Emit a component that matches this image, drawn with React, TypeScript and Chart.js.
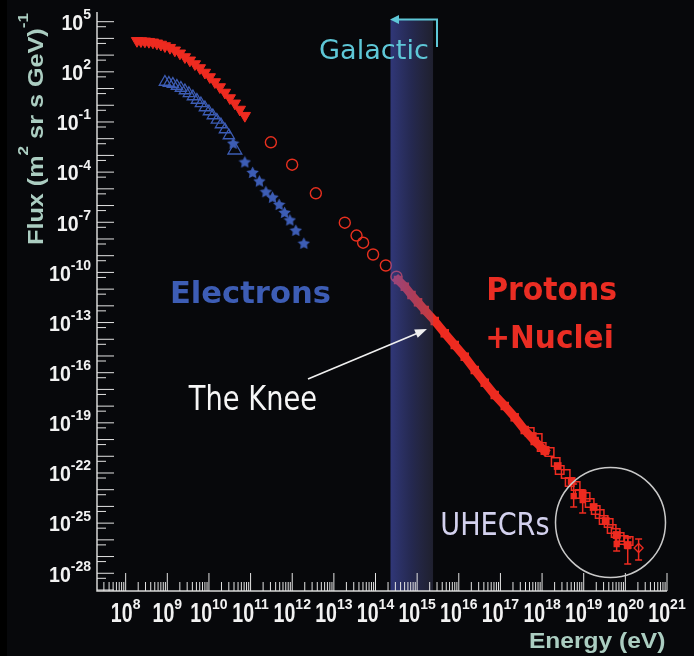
import { useEffect, useRef } from 'react';
import { Chart, registerables } from 'chart.js';

Chart.register(...registerables);

// ---------------- Data (energy in eV, flux in (m^2 sr s GeV)^-1) ----------------
const protonLowE = [1.87e8, 2.33e8, 2.9e8, 3.62e8, 4.52e8, 5.64e8, 7.03e8, 8.77e8, 1.16e9, 1.52e9, 2.01e9, 2.65e9, 3.49e9, 4.6e9, 6.07e9, 8.0e9, 1.05e10, 1.39e10, 1.83e10, 2.42e10, 3.18e10, 4.2e10, 5.53e10, 7.29e10];
const protonLowFlux = [7.2e3, 7.0e3, 6.71e3, 6.36e3, 5.86e3, 5.1e3, 4.33e3, 3.52e3, 2.78e3, 1.95e3, 1.29e3, 773, 491, 294, 170, 91.4, 49.1, 24.7, 12.4, 5.81, 2.72, 1.31, 0.558, 0.238];

const electronLowE = [8.77e8, 1.09e9, 1.36e9, 1.7e9, 2.12e9, 2.65e9, 3.3e9, 4.12e9, 5.14e9, 6.41e9, 8.0e9, 9.98e9, 1.24e10, 1.55e10, 1.94e10, 2.42e10, 3.01e10, 4.2e10];
const electronLowFlux = [24.7, 21.5, 18.7, 14.2, 10.8, 7.66, 5.2, 3.35, 2.07, 1.28, 0.736, 0.424, 0.244, 0.132, 0.0706, 0.0355, 0.0155, 0.00211];

const electronHighE = [3.82e10, 7.29e10, 1.12e11, 1.63e11, 2.33e11, 3.37e11, 4.86e11, 6.55e11, 8.77e11, 1.22e12, 1.9e12];
const electronHighFlux = [5.31e-3, 4.04e-4, 9.51e-5, 2.94e-5, 6.75e-6, 3.12e-6, 1.16e-6, 3.84e-7, 1.37e-7, 3.3e-8, 5.52e-9];

const protonMidE = [3.07e11, 9.96e11, 3.69e12, 1.83e13, 3.5e13, 5.04e13, 8.75e13, 1.77e14, 3.19e14];
const protonMidFlux = [6.08e-3, 2.78e-4, 5.41e-6, 9.42e-8, 1.61e-8, 6.0e-9, 1.18e-9, 2.59e-10, 5.53e-11];

const kneeE = [3.48e14, 5.05e14, 7.31e14, 1.05e15, 1.52e15, 2.65e15, 4.6e15, 8.0e15, 1.39e16, 2.42e16, 4.2e16, 7.29e16, 1.27e17, 2.2e17, 3.83e17, 6.65e17, 1.16e18];
const kneeFlux = [3.52e-11, 1.4e-11, 4.45e-12, 1.63e-12, 5.64e-13, 1.24e-13, 2.28e-14, 4.54e-15, 9.06e-16, 1.45e-16, 2.52e-17, 4.62e-18, 1.02e-18, 2.14e-19, 3.72e-20, 8.18e-21, 2.15e-21];

const uhecrOpenE = [5.05e17, 7.85e17, 9.79e17, 1.52e18, 2.12e18, 2.65e18, 3.69e18, 4.6e18, 6.41e18, 8.0e18, 1.11e19, 1.39e19, 1.94e19, 2.42e19, 3.01e19, 3.97e19, 4.69e19, 5.85e19, 7.29e19, 9.1e19, 1.2e20];
const uhecrOpenFlux = [2.83e-20, 1.24e-20, 3.58e-21, 1.8e-21, 4.54e-22, 1.51e-22, 8.69e-23, 2.88e-23, 1.66e-23, 5.52e-24, 3.65e-24, 1.6e-24, 6.1e-25, 3.51e-25, 1.53e-25, 1.02e-25, 4.45e-26, 2.56e-26, 1.48e-26, 9.77e-27, 8.51e-27];

const uhecrFilledE = [5.96e17, 1.22e18, 2.37e18, 5.14e18, 9.44e18, 1.73e19, 3.37e19, 6.18e19, 1.14e20];
const uhecrFilledFlux = [1.63e-20, 2.37e-21, 2.61e-22, 3.31e-23, 5.52e-24, 9.2e-25, 1.34e-25, 1.95e-26, 4.9e-27];

const errE = [5.74e18, 9.44e18, 6.18e19, 1.14e20, 2.08e20];
const errFlux = [4.19e-24, 2.42e-24, 5.61e-27, 4.27e-27, 3.24e-27];
const errLow = [9.2e-25, 4.03e-25, 2.14e-27, 3.56e-28, 6.22e-28];
const errHigh = [2.19e-23, 9.57e-24, 1.29e-26, 1.29e-26, 1.12e-26];

// Knee region band (energy range) and its top
const bandE = [2.29e14, 2.41e15];
const bandTopFlux = 1.26e5;

// Axis ranges and ticks
const X_MIN = 2.05e7;
const X_MAX = 1e21;
const Y_MIN = 8.7e-30;
const Y_MAX = 3.8e5;
const xLabelExps = [8, 9, 10, 11, 12, 13, 14, 15, 16, 17, 18, 19, 20, 21];
const yMajorExps = [5, 4, 3, 2, 1, 0, -1, -2, -3, -4, -5, -6, -7, -8, -9, -10, -11, -12, -13, -14, -15, -16, -17, -18, -19, -20, -21, -22, -23, -24, -25, -26, -27, -28, -29];
const yLabelExps = [5, 2, -1, -4, -7, -10, -13, -16, -19, -22, -25, -28];

// ---------------- Styles ----------------
const BG = '#07080b';
const RED = '#ee2b20';
const BLUE = '#3d5db5';
const TITLE = '#abcdc1';

function makeStar(color: string, size: number) {
  const c = document.createElement('canvas');
  c.width = size;
  c.height = size;
  const g = c.getContext('2d')!;
  const cx = size / 2, cy = size / 2 + 0.5, R = size / 2, r = R * 0.5;
  g.beginPath();
  for (let i = 0; i < 10; i++) {
    const a = -Math.PI / 2 + (i * Math.PI) / 5;
    const rad = i % 2 === 0 ? R : r;
    g.lineTo(cx + rad * Math.cos(a), cy + rad * Math.sin(a));
  }
  g.closePath();
  g.fillStyle = color;
  g.fill();
  return c;
}

function fitText(ctx: CanvasRenderingContext2D, text: string, font: string, left: number, baseline: number, inkWidth: number, color: string) {
  ctx.save();
  ctx.font = font;
  ctx.textAlign = 'left';
  ctx.textBaseline = 'alphabetic';
  const m = ctx.measureText(text);
  const ink = m.actualBoundingBoxLeft + m.actualBoundingBoxRight;
  const s = inkWidth / ink;
  ctx.translate(left, baseline);
  ctx.scale(s, 1);
  ctx.fillStyle = color;
  ctx.fillText(text, m.actualBoundingBoxLeft, 0);
  ctx.restore();
}

function drawPower(ctx: CanvasRenderingContext2D, exp: number, anchorX: number, align: 'center' | 'right', base10: number, baseExp: number, f10: string, s10: number, fExp: string, sExp: number) {
  const e = exp < 0 ? '-' + Math.abs(exp) : String(exp);
  ctx.font = f10;
  const w10 = ctx.measureText('10').width * s10;
  ctx.font = fExp;
  const wE = ctx.measureText(e).width * sExp;
  const total = w10 + wE;
  const start = align === 'center' ? anchorX - total / 2 : anchorX - total;
  ctx.save();
  ctx.font = f10;
  ctx.translate(start, base10);
  ctx.scale(s10, 1);
  ctx.fillText('10', 0, 0);
  ctx.restore();
  ctx.save();
  ctx.font = fExp;
  ctx.translate(start + w10, baseExp);
  ctx.scale(sExp, 1);
  ctx.fillText(e, 0, 0);
  ctx.restore();
}

function arrowHead(ctx: CanvasRenderingContext2D, tipX: number, tipY: number, fromX: number, fromY: number, len: number, half: number) {
  const a = Math.atan2(tipY - fromY, tipX - fromX);
  const bx = tipX - Math.cos(a) * len, by = tipY - Math.sin(a) * len;
  ctx.beginPath();
  ctx.moveTo(tipX, tipY);
  ctx.lineTo(bx + Math.sin(a) * half, by - Math.cos(a) * half);
  ctx.lineTo(bx - Math.sin(a) * half, by + Math.cos(a) * half);
  ctx.closePath();
  ctx.fill();
}

const overlay = {
  id: 'cosmicOverlay',
  beforeDraw(chart: any) {
    const { ctx, width, height } = chart;
    ctx.save();
    ctx.fillStyle = BG;
    ctx.fillRect(0, 0, width, height);
    ctx.fillStyle = '#000000';
    ctx.fillRect(0, 0, 7, height);
    ctx.restore();
  },
  afterDatasetsDraw(chart: any) {
    const ctx: CanvasRenderingContext2D = chart.ctx;
    const ca = chart.chartArea;
    const xs = chart.scales.x;
    const ys = chart.scales.y;
    ctx.save();

    // error bars
    ctx.strokeStyle = RED;
    ctx.lineWidth = 1.5;
    for (let i = 0; i < errE.length; i++) {
      const x = xs.getPixelForValue(errE[i]);
      const y1 = ys.getPixelForValue(errHigh[i]);
      const y2 = ys.getPixelForValue(errLow[i]);
      ctx.beginPath();
      ctx.moveTo(x, y1); ctx.lineTo(x, y2);
      ctx.moveTo(x - 3.5, y1); ctx.lineTo(x + 3.5, y1);
      ctx.moveTo(x - 3.5, y2); ctx.lineTo(x + 3.5, y2);
      ctx.stroke();
    }

    // knee band (translucent overlay)
    const bx0 = xs.getPixelForValue(bandE[0]);
    const bx1 = xs.getPixelForValue(bandE[1]);
    const by0 = ys.getPixelForValue(bandTopFlux);
    const g = ctx.createLinearGradient(bx0, 0, bx1, 0);
    g.addColorStop(0, 'rgba(82,94,210,0.55)');
    g.addColorStop(0.5, 'rgba(78,86,175,0.42)');
    g.addColorStop(1, 'rgba(95,97,145,0.27)');
    ctx.fillStyle = g;
    ctx.fillRect(bx0, by0, bx1 - bx0, ca.bottom - by0);

    // axes
    ctx.strokeStyle = '#d6d6d6';
    ctx.lineWidth = 1.5;
    ctx.beginPath();
    ctx.moveTo(ca.left, ca.top);
    ctx.lineTo(ca.left, ca.bottom);
    ctx.lineTo(ca.right, ca.bottom);
    ctx.stroke();

    // y ticks
    ctx.strokeStyle = '#e4e4e4';
    ctx.lineWidth = 1;
    ctx.beginPath();
    for (const n of yMajorExps) {
      const y = ys.getPixelForValue(Math.pow(10, n));
      if (y >= ca.top - 0.5 && y <= ca.bottom + 0.5) {
        ctx.moveTo(ca.left, y); ctx.lineTo(ca.left + 17, y);
      }
      const ym = ys.getPixelForValue(5 * Math.pow(10, n - 1));
      if (ym >= ca.top && ym <= ca.bottom - 1) {
        ctx.moveTo(ca.left, ym); ctx.lineTo(ca.left + 9, ym);
      }
    }
    ctx.stroke();

    // x ticks
    ctx.beginPath();
    for (let n = 7; n <= 21; n++) {
      for (let k = 1; k <= 9; k++) {
        const v = k * Math.pow(10, n);
        if (v < X_MIN * 1.01 || v > X_MAX * 1.001) continue;
        const x = xs.getPixelForValue(v);
        const len = k === 1 ? 18 : 9;
        ctx.moveTo(x, ca.bottom); ctx.lineTo(x, ca.bottom - len);
      }
    }
    ctx.stroke();

    // tick labels
    ctx.fillStyle = '#f2f2f2';
    ctx.textBaseline = 'alphabetic';
    ctx.textAlign = 'left';
    for (const n of yLabelExps) {
      const y = ys.getPixelForValue(Math.pow(10, n));
      drawPower(ctx, n, 91, 'right', y + 8.3, y - 2.5,
        'bold 22px "Liberation Sans", Arial, sans-serif', 0.89,
        'bold 14px "Liberation Sans", Arial, sans-serif', 1.0);
    }
    for (const n of xLabelExps) {
      const x = xs.getPixelForValue(Math.pow(10, n));
      drawPower(ctx, n, x, 'center', 621.7, 608.5,
        'bold 28px "Liberation Sans", Arial, sans-serif', 0.7,
        'bold 14px "Liberation Sans", Arial, sans-serif', 1.0);
    }

    // axis titles
    ctx.save();
    ctx.fillStyle = TITLE;
    ctx.translate(43, 245);
    ctx.rotate(-Math.PI / 2);
    const MAIN = 'bold 22px "Liberation Sans", Arial, sans-serif';
    const SUP = 'bold 15px "Liberation Sans", Arial, sans-serif';
    const parts = [
      { t: 'Flux (m', f: MAIN, dy: 0 },
      { t: '2', f: SUP, dy: -15 },
      { t: ' sr s GeV)', f: MAIN, dy: 0 },
      { t: '-1', f: SUP, dy: -15 },
    ];
    let total = 0;
    const widths: number[] = [];
    for (const p of parts) {
      ctx.font = p.f;
      const w = ctx.measureText(p.t).width;
      widths.push(w);
      total += w;
    }
    ctx.scale(232 / total, 1);
    let px = 0;
    parts.forEach((p, i) => {
      ctx.font = p.f;
      ctx.fillText(p.t, px, p.dy);
      px += widths[i];
    });
    ctx.restore();
    fitText(ctx, 'Energy (eV)', 'bold 22px "Liberation Sans", Arial, sans-serif', 530, 648, 135, TITLE);

    // annotations
    fitText(ctx, 'Galactic', '27px "DejaVu Sans", sans-serif', 320, 59, 108, '#5ec7d7');
    ctx.strokeStyle = '#5ec7d7';
    ctx.fillStyle = '#5ec7d7';
    ctx.lineWidth = 2;
    ctx.beginPath();
    ctx.moveTo(437, 47);
    ctx.lineTo(437, 19.5);
    ctx.lineTo(397, 19.5);
    ctx.stroke();
    arrowHead(ctx, 390, 19.5, 437, 19.5, 9, 4.5);

    fitText(ctx, 'Electrons', 'bold 30px "DejaVu Sans", sans-serif', 172, 303, 158, BLUE);
    fitText(ctx, 'Protons', 'bold 32px "DejaVu Sans", sans-serif', 488, 300, 128, '#ea2d23');
    fitText(ctx, '+Nuclei', 'bold 32px "DejaVu Sans", sans-serif', 488, 348, 124, '#ea2d23');
    fitText(ctx, 'The Knee', '33px "DejaVu Sans", sans-serif', 188, 410, 128, '#f6f6f6');
    fitText(ctx, 'UHECRs', '32px "DejaVu Sans", sans-serif', 442, 535, 107, '#d3d1ee');

    // knee arrow
    ctx.strokeStyle = '#f0f0f0';
    ctx.fillStyle = '#f0f0f0';
    ctx.lineWidth = 1.6;
    ctx.beginPath();
    ctx.moveTo(308, 379);
    ctx.lineTo(418, 333);
    ctx.stroke();
    arrowHead(ctx, 427, 329, 308, 379, 12, 4.5);

    // UHECR circle
    ctx.strokeStyle = '#c9c9c9';
    ctx.lineWidth = 1.5;
    ctx.beginPath();
    ctx.arc(610.5, 522.5, 55, 0, Math.PI * 2);
    ctx.stroke();

    ctx.restore();
  },
};

function pts(xs: number[], ys: number[]) {
  return xs.map((x, i) => ({ x, y: ys[i] }));
}

export default function App() {
  const ref = useRef<HTMLCanvasElement>(null);
  useEffect(() => {
    document.body.style.margin = '0';
    document.body.style.background = BG;
    const star = makeStar(BLUE, 13);
    const chart = new Chart(ref.current!, {
      type: 'scatter',
      data: {
        datasets: [
          {
            data: pts(protonLowE, protonLowFlux),
            pointStyle: 'triangle',
            rotation: 180,
            pointRadius: 6.5,
            backgroundColor: RED,
            borderColor: RED,
            borderWidth: 1,
          },
          {
            data: pts(electronLowE, electronLowFlux),
            pointStyle: 'triangle',
            pointRadius: (c: any) => (c.dataIndex === electronLowE.length - 1 ? 8 : 6.5),
            backgroundColor: 'rgba(0,0,0,0)',
            borderColor: BLUE,
            borderWidth: 1.3,
          },
          {
            data: pts(electronHighE, electronHighFlux),
            pointStyle: star as any,
            pointRadius: 6,
          },
          {
            data: pts(protonMidE, protonMidFlux),
            pointStyle: 'circle',
            pointRadius: 5.5,
            backgroundColor: 'rgba(0,0,0,0)',
            borderColor: '#e8301f',
            borderWidth: 1.4,
          },
          {
            data: pts(kneeE, kneeFlux),
            showLine: true,
            borderColor: RED,
            borderWidth: 8.5,
            borderCapStyle: 'square',
            pointStyle: 'rect',
            pointRadius: 6,
            pointBackgroundColor: RED,
            pointBorderWidth: 0,
          },
          {
            data: pts(uhecrOpenE, uhecrOpenFlux),
            pointStyle: 'rect',
            pointRadius: 6,
            backgroundColor: 'rgba(0,0,0,0)',
            borderColor: RED,
            borderWidth: 1.5,
          },
          {
            data: pts(uhecrFilledE, uhecrFilledFlux),
            pointStyle: 'rect',
            pointRadius: 5.5,
            backgroundColor: RED,
            borderColor: RED,
            borderWidth: 0,
          },
          {
            data: pts(errE, errFlux),
            pointStyle: (c: any) => (c.dataIndex === 4 ? 'rectRot' : 'rect'),
            pointRadius: (c: any) => (c.dataIndex === 4 ? 4.5 : 3.5),
            backgroundColor: (c: any) => (c.dataIndex === 4 ? 'rgba(0,0,0,0)' : RED),
            borderColor: RED,
            borderWidth: 1.3,
          },
        ] as any,
      },
      options: {
        animation: false,
        responsive: false,
        devicePixelRatio: 1,
        events: [],
        layout: { padding: { left: 97, right: 27, top: 12, bottom: 65 } },
        plugins: { legend: { display: false }, tooltip: { enabled: false } },
        scales: {
          x: { type: 'logarithmic', min: X_MIN, max: X_MAX, display: false },
          y: { type: 'logarithmic', min: Y_MIN, max: Y_MAX, display: false },
        },
      },
      plugins: [overlay],
    } as any);
    return () => chart.destroy();
  }, []);
  return <canvas ref={ref} width={694} height={656} style={{ display: 'block', width: 694, height: 656 }} />;
}
